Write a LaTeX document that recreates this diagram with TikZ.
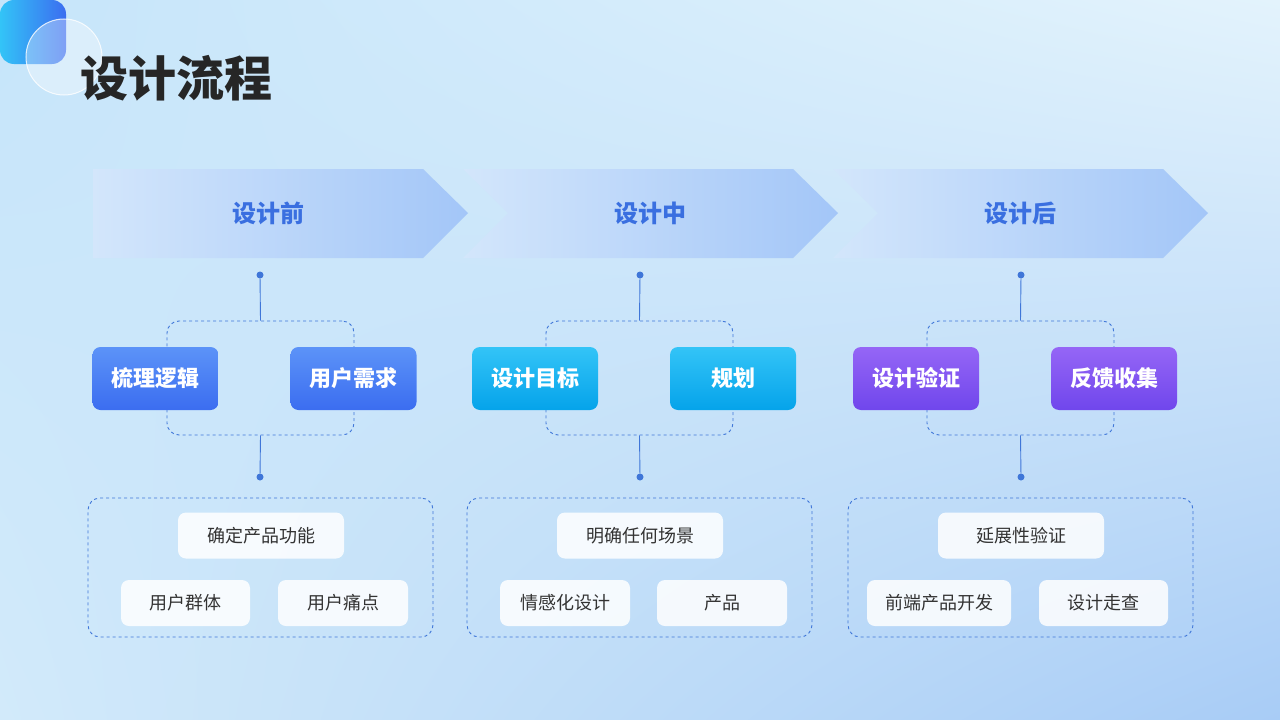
\documentclass[tikz,border=0pt]{standalone}
\usepackage{fontspec}
\setmainfont{Noto Sans CJK SC}
\usetikzlibrary{positioning, shadings}
\definecolor{bgA}{HTML}{C6E5FA}
\definecolor{bgB}{HTML}{E3F3FC}
\definecolor{bgC}{HTML}{D2EAFA}
\definecolor{bgD}{HTML}{A8CCF6}
\definecolor{chevL}{HTML}{D3E6FB}
\definecolor{chevR}{HTML}{A3C6F8}
\definecolor{stageText}{HTML}{3A6FE0}
\definecolor{lineBlue}{HTML}{3F76D8}
\definecolor{bluA}{HTML}{5C93F8}
\definecolor{bluB}{HTML}{3B6DF0}
\definecolor{cyaA}{HTML}{33C4F7}
\definecolor{cyaB}{HTML}{05A3EA}
\definecolor{purA}{HTML}{9566F6}
\definecolor{purB}{HTML}{7046EC}
\tikzset{
  stagelabel/.style={font=\bfseries\fontsize{24}{28}\selectfont, text=stageText},
  tagbtn/.style={rounded corners=8pt, minimum width=126pt, minimum height=63pt,
    font=\bfseries\fontsize{22}{26}\selectfont, text=white},
  pill/.style={fill=white, fill opacity=0.85, text opacity=1, rounded corners=8pt,
    minimum height=46pt, font=\fontsize{18}{22}\selectfont, text=black!80},
  dot/.style={circle, fill=lineBlue, inner sep=0pt, minimum size=7pt},
  link/.style={draw=lineBlue, line width=0.9pt},
  dashbox/.style={draw=lineBlue, dashed, line width=0.9pt, rounded corners=12pt}
}
\begin{document}
\begin{tikzpicture}[x=1pt, y=-1pt]
  \useasboundingbox (0,0) rectangle (1280,720);
  \shade[upper left=bgA, upper right=bgB, lower left=bgC, lower right=bgD] (0,0) rectangle (1280,720);
  % corner decoration
  \shade[left color=cyaA, right color=bluB, rounded corners=14pt] (0,0) rectangle (66,64);
  \fill[white, opacity=0.35] (64,57) circle (38);
  \draw[white, opacity=0.8, line width=1pt] (64,57) circle (38);
  \node[anchor=west, inner sep=0pt, font=\bfseries\fontsize{48}{54}\selectfont, text=black!85] (title) at (80,78) {设计流程};
  % stages
  \shade[left color=chevL, right color=chevR] (93,169) -- (423,169) -- (468,213) -- (423,258) -- (93,258) -- cycle;
  \shade[left color=chevL, right color=chevR] (463,169) -- (793,169) -- (838,213) -- (793,258) -- (463,258) -- (508,213) -- cycle;
  \shade[left color=chevL, right color=chevR] (833,169) -- (1163,169) -- (1208,213) -- (1163,258) -- (833,258) -- (878,213) -- cycle;
  \node[stagelabel] (pre) at (268,213) {设计前};
  \node[stagelabel] (mid) at (650,213) {设计中};
  \node[stagelabel] (post) at (1020,213) {设计后};
  % column 1
  \node[dot] (d1a) at (260,275) {};
  \node[dot] (d1b) at (260,477) {};
  \node[dashbox, minimum width=187pt, minimum height=114pt] (g1) at (260.5,378) {};
  \draw[link] (d1a) -- (g1.north);
  \draw[link] (g1.south) -- (d1b);
  \node[tagbtn, top color=bluA, bottom color=bluB] (b1) at (155.5,378.5) {梳理逻辑};
  \node[tagbtn, top color=bluA, bottom color=bluB] (b2) at (353.5,378.5) {用户需求};
  \node[dashbox, minimum width=345pt, minimum height=139pt] (c1) at (260.5,567.5) {};
  \node[pill, minimum width=166pt] (p1) at (261,535.5) {确定产品功能};
  \node[pill, minimum width=129pt] (p2) at (185.5,603) {用户群体};
  \node[pill, minimum width=130pt] (p3) at (343,603) {用户痛点};
  % column 2
  \node[dot] (d2a) at (640,275) {};
  \node[dot] (d2b) at (640,477) {};
  \node[dashbox, minimum width=187pt, minimum height=114pt] (g2) at (639.5,378) {};
  \draw[link] (d2a) -- (g2.north);
  \draw[link] (g2.south) -- (d2b);
  \node[tagbtn, top color=cyaA, bottom color=cyaB] (b3) at (535,378.5) {设计目标};
  \node[tagbtn, top color=cyaA, bottom color=cyaB] (b4) at (733,378.5) {规划};
  \node[dashbox, minimum width=345pt, minimum height=139pt] (c2) at (639.5,567.5) {};
  \node[pill, minimum width=166pt] (p4) at (640,535.5) {明确任何场景};
  \node[pill, minimum width=130pt] (p5) at (565,603) {情感化设计};
  \node[pill, minimum width=130pt] (p6) at (722,603) {产品};
  % column 3
  \node[dot] (d3a) at (1021,275) {};
  \node[dot] (d3b) at (1021,477) {};
  \node[dashbox, minimum width=187pt, minimum height=114pt] (g3) at (1020.5,378) {};
  \draw[link] (d3a) -- (g3.north);
  \draw[link] (g3.south) -- (d3b);
  \node[tagbtn, top color=purA, bottom color=purB] (b5) at (916,378.5) {设计验证};
  \node[tagbtn, top color=purA, bottom color=purB] (b6) at (1114,378.5) {反馈收集};
  \node[dashbox, minimum width=345pt, minimum height=139pt] (c3) at (1020.5,567.5) {};
  \node[pill, minimum width=166pt] (p7) at (1021,535.5) {延展性验证};
  \node[pill, minimum width=144pt] (p8) at (939,603) {前端产品开发};
  \node[pill, minimum width=129pt] (p9) at (1103.5,603) {设计走查};
\end{tikzpicture}
\end{document}
